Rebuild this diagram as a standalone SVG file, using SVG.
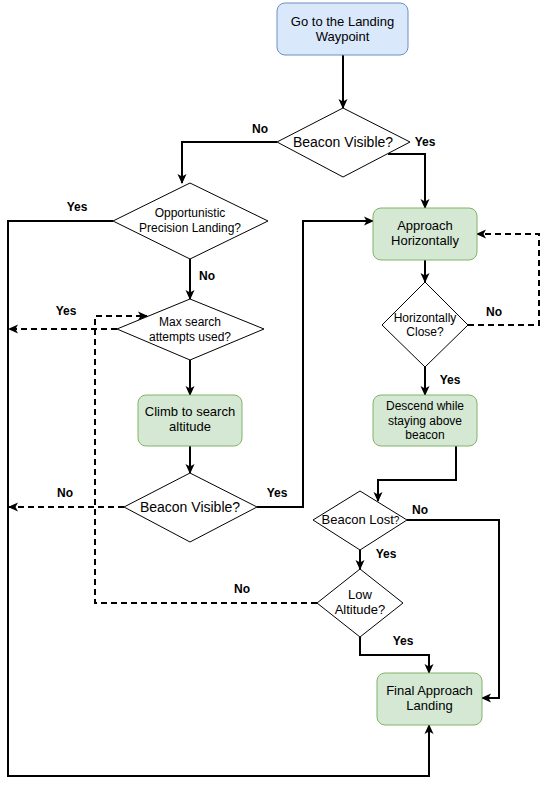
<svg xmlns="http://www.w3.org/2000/svg" width="550" height="786" viewBox="0 0 550 786">
<defs>
<marker id="arr" viewBox="0 0 10 10" refX="9" refY="5" markerWidth="10" markerHeight="10" markerUnits="userSpaceOnUse" orient="auto">
<path d="M0,0.5 L10,5 L0,9.5 L2.5,5 z" fill="#000"/>
</marker>
<style>
.conn{fill:none;stroke:#000;stroke-width:2;marker-end:url(#arr)}
.dash{stroke-dasharray:6 4}
.dia{fill:#fff;stroke:#000;stroke-width:1}
.green{fill:#d5e8d4;stroke:#82b366;stroke-width:1}
.blue{fill:#dae8fc;stroke:#6c8ebf;stroke-width:1}
text{font-family:"Liberation Sans",Arial,Helvetica,sans-serif;fill:#000;text-anchor:middle}
.t12{font-size:12px}
.t13{font-size:13px}
.t14{font-size:14px}
.lbl{font-size:12px;font-weight:bold}
</style>
</defs>
<rect width="550" height="786" fill="#fff"/>
<g id="connectors">
<path class="conn" d="M343,55 V108"/>
<path class="conn" d="M277,142 H182 V183"/>
<path class="conn" d="M388,154 H425 V208"/>
<path class="conn" d="M113,221 H8 V776 H429 V725"/>
<path class="conn" d="M190,259 V299"/>
<path class="conn dash" d="M117,329 H9"/>
<path class="conn" d="M190,360 V395"/>
<path class="conn" d="M190,446 V473"/>
<path class="conn dash" d="M124,507 H9"/>
<path class="conn" d="M257,507 H303 V221 H373"/>
<path class="conn" d="M425,260 V282"/>
<path class="conn dash" d="M468,325 H539 V234 H477"/>
<path class="conn" d="M425,367 V395"/>
<path class="conn" d="M456,446 V480 H378 V501"/>
<path class="conn" d="M407,520 H499 V698 H482"/>
<path class="conn" d="M360,550 V569"/>
<path class="conn" d="M360,637 V655 H429 V673"/>
<path class="conn dash" d="M317,603 H95 V316 H147"/>
<text class="lbl" x="260" y="133">No</text>
<text class="lbl" x="425" y="146">Yes</text>
<text class="lbl" x="77" y="211">Yes</text>
<text class="lbl" x="207" y="280">No</text>
<text class="lbl" x="66" y="315">Yes</text>
<text class="lbl" x="65" y="497">No</text>
<text class="lbl" x="277" y="497">Yes</text>
<text class="lbl" x="494" y="316">No</text>
<text class="lbl" x="450" y="384">Yes</text>
<text class="lbl" x="420" y="514">No</text>
<text class="lbl" x="386" y="558">Yes</text>
<text class="lbl" x="242" y="593">No</text>
<text class="lbl" x="403" y="645">Yes</text>
</g>
<g id="start">
<rect class="blue" x="277" y="3" width="131" height="52" rx="8"/>
<text class="t13" x="342.5" y="26">Go to the Landing</text>
<text class="t13" x="342.5" y="41">Waypoint</text>
</g>
<g id="beaconVisible1">
<polygon class="dia" points="343,108 410,142 343,177 277,142"/>
<text class="t14" x="343" y="147">Beacon Visible?</text>
</g>
<g id="opportunistic">
<polygon class="dia" points="190,183 268,221 190,259 113,221"/>
<text class="t12" x="190" y="217">Opportunistic</text>
<text class="t12" x="190" y="232">Precision Landing?</text>
</g>
<g id="maxSearch">
<polygon class="dia" points="190,299 264,329 190,360 117,329"/>
<text class="t12" x="190" y="326">Max search</text>
<text class="t12" x="190" y="341">attempts used?</text>
</g>
<g id="climb">
<rect class="green" x="138" y="395" width="104" height="51" rx="8"/>
<text class="t13" x="190" y="416">Climb to search</text>
<text class="t13" x="190" y="431">altitude</text>
</g>
<g id="beaconVisible2">
<polygon class="dia" points="190,473 257,507 190,542 124,507"/>
<text class="t14" x="190" y="512">Beacon Visible?</text>
</g>
<g id="approach">
<rect class="green" x="373" y="208" width="104" height="52" rx="8"/>
<text class="t13" x="425" y="230">Approach</text>
<text class="t13" x="425" y="245">Horizontally</text>
</g>
<g id="horizClose">
<polygon class="dia" points="425,282 468,325 425,367 382,325"/>
<text class="t12" x="425" y="322">Horizontally</text>
<text class="t12" x="425" y="336">Close?</text>
</g>
<g id="descend">
<rect class="green" x="373" y="395" width="104" height="51" rx="8"/>
<text class="t12" x="425" y="410">Descend while</text>
<text class="t12" x="425" y="424.5">staying above</text>
<text class="t12" x="425" y="439">beacon</text>
</g>
<g id="beaconLost">
<polygon class="dia" points="360,491 407,520 360,550 313,520"/>
<text class="t13" x="360.5" y="524">Beacon Lost<tspan font-size="10">?</tspan></text>
</g>
<g id="lowAltitude">
<polygon class="dia" points="360,569 403,603 360,637 317,603"/>
<text class="t13" x="360" y="599">Low</text>
<text class="t13" x="360" y="614">Altitude?</text>
</g>
<g id="final">
<rect class="green" x="377" y="673" width="105" height="52" rx="8"/>
<text class="t13" x="429.5" y="695">Final Approach</text>
<text class="t13" x="429.5" y="710">Landing</text>
</g>
</svg>
